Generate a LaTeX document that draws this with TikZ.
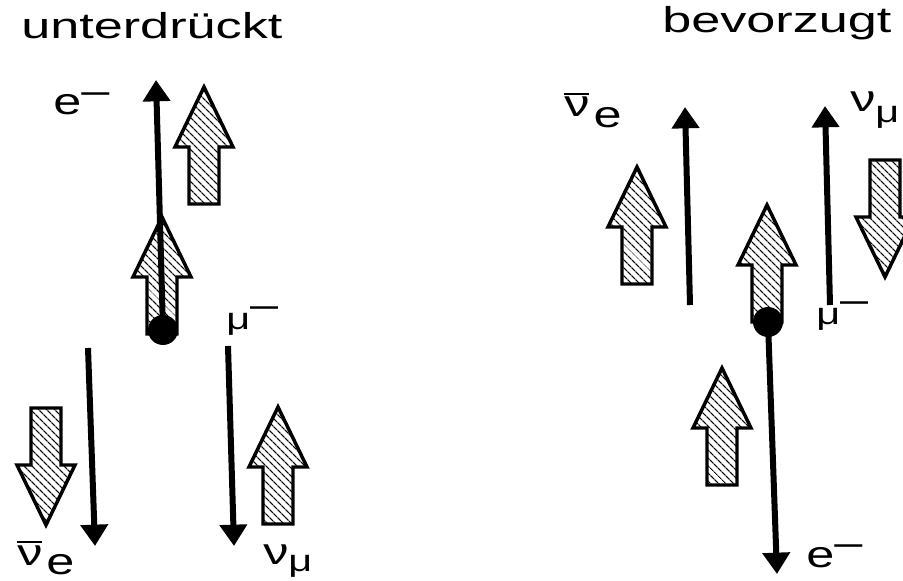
\documentclass[tikz,border=0pt]{standalone}
\usepackage{fontspec}
\setmainfont{Liberation Sans}
\usepackage{graphicx}
\usetikzlibrary{arrows.meta, patterns.meta}

\newcommand{\lbl}[1]{\fontsize{28}{30}\selectfont\scalebox{1.35}[1]{#1}}
\newcommand{\smallmu}{{\fontsize{23}{25}\selectfont μ}}
\newcommand{\minusup}{\raisebox{.32em}{–}}
\newcommand{\nubar}{\makebox[0pt][l]{\rule[.58em]{.5em}{.07em}}ν}

\tikzset{
  track/.style={line width=4.5pt, -{Triangle[width=20pt,length=16pt]}},
  spinbox/.style={line width=2.6pt, line join=miter,
    pattern={Lines[angle=-45,distance=4pt,line width=1pt]}},
  spin/.pic={\draw[spinbox] (0,0) -- (29,60) -- (15,60) -- (15,117)
    -- (-15,117) -- (-15,60) -- (-29,60) -- cycle;},
  headline/.style={anchor=base west, inner sep=0pt, font=\fontsize{27}{30}\selectfont},
  partname/.style={anchor=base west, inner sep=0pt},
}

\begin{document}
\begin{tikzpicture}[x=0.75pt, y=-0.75pt]
  \useasboundingbox (0,0) rectangle (903,581);
  \clip (0,0) rectangle (903,581);

  % unterdrueckt
  \node[headline] (sup) at (21,39) {\scalebox{1.45}[1]{unterdrückt}};
  \coordinate (decL) at (163,330);
  \coordinate (eLend) at (156,80);
  \coordinate (neLtop) at (88,348);
  \coordinate (neLend) at (95,546);
  \coordinate (nmLtop) at (228,346);
  \coordinate (nmLend) at (234,546);

  \pic at (204,87) {spin};
  \pic at (162,217) {spin};
  \pic[rotate=180] at (46,525) {spin};
  \pic at (278,407) {spin};
  \fill (decL) circle (15);
  \draw[track] (decL) -- (eLend);
  \draw[track] (neLtop) -- (neLend);
  \draw[track] (nmLtop) -- (nmLend);

  \node[partname] (eL) at (53,115) {\lbl{e\minusup}};
  \node[partname] (muL) at (226,329) {\lbl{\smallmu\minusup}};
  \node[partname] (neL) at (17,565) {\lbl{\nubar\kern.08em\raisebox{-.25em}{e}}};
  \node[partname] (nmL) at (263,564) {\lbl{ν\raisebox{-.19em}{\smallmu}}};

  % bevorzugt
  \node[headline] (pref) at (662,33) {\scalebox{1.45}[1]{bevorzugt}};
  \coordinate (decR) at (768,322);
  \coordinate (eRend) at (777,574);
  \coordinate (neRbot) at (690,305);
  \coordinate (neRend) at (685,107);
  \coordinate (nmRbot) at (830,305);
  \coordinate (nmRend) at (825,106);

  \pic at (637,167) {spin};
  \pic at (767,205) {spin};
  \pic at (722,368) {spin};
  \pic[rotate=180] at (885,277) {spin};
  \fill (decR) circle (15);
  \draw[track] (decR) -- (eRend);
  \draw[track] (neRbot) -- (neRend);
  \draw[track] (nmRbot) -- (nmRend);

  \node[partname] (neR) at (564,117) {\lbl{\nubar\kern.08em\raisebox{-.27em}{e}}};
  \node[partname] (nmR) at (850,112) {\lbl{ν\raisebox{-.27em}{\smallmu}}};
  \node[partname] (muR) at (816,324) {\lbl{\smallmu\minusup}};
  \node[partname] (eR) at (806,567) {\lbl{e\minusup}};
\end{tikzpicture}
\end{document}
